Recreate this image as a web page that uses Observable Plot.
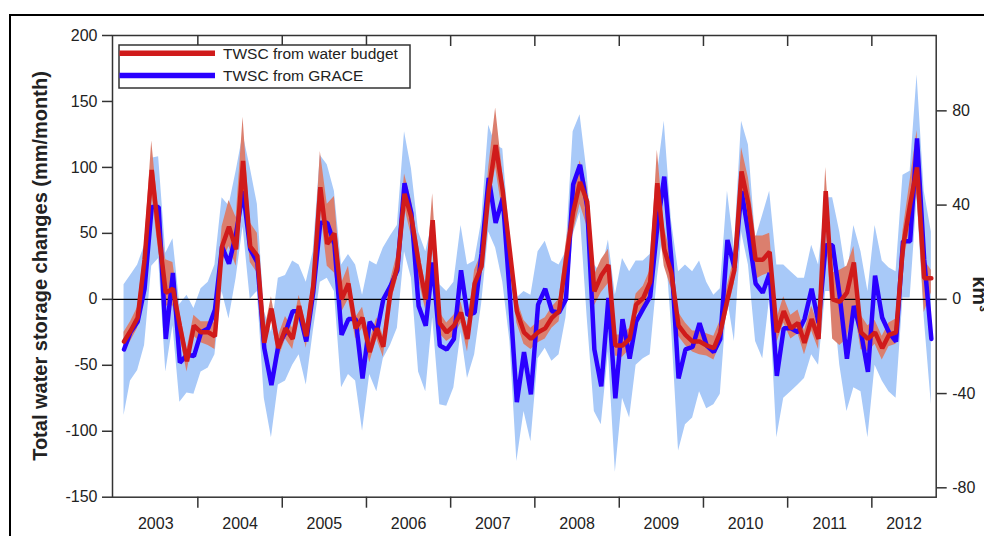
<!DOCTYPE html>
<html><head><meta charset="utf-8">
<script src="https://cdn.jsdelivr.net/npm/d3@7"></script>
<script src="https://cdn.jsdelivr.net/npm/@observablehq/plot@0.6"></script>
<style>
html,body{margin:0;padding:0;background:#fff;}
#wrap{position:relative;width:984px;height:536px;overflow:hidden;background:#fff;}
#frame{position:absolute;left:9px;top:14px;width:1100px;height:700px;border-top:2px solid #000;border-left:2px solid #000;}
#chart{position:absolute;left:0;top:0;}
</style></head><body>
<div id="wrap"><div id="frame"></div><div id="chart"></div></div>
<script>
// Monthly series, Feb 2003 .. Sep 2012 (mm/month)
const firstYear = 2003, firstMonth = 2;
const budget = [-32,-24,-14,30,98,50,5,8,-20,-47, -20,-25,-25,-28,40,55,38,105,40,33, -33,-7,-37,-22,-30,-5,-28,10,85,42,
  50,0,12,-22,-14,-40,-22,-36,5,25, 80,62,28,0,60,-18,-25,-20,-10,-30, 12,25,82,117,82,36,-9,-25,-30,-25,
  -22,-14,-9,30,66,89,74,6,18,26, -35,-35,-30,-4,1,13,88,38,20,-20, -27,-32,-32,-35,-37,-25,0,22,97,72,
  30,30,36,-25,-9,-22,-18,-33,-15,-30, 82,0,-2,5,28,-25,-30,-25,-37,-27, -25,40,72,100,16,16];
const budgetHigh = [-25,-17,-6,40,120,66,30,28,-10,-38, -12,-17,-17,-18,55,75,62,138,58,50, -25,2,-28,-13,-22,3,-20,18,112,72,
  78,12,25,-14,-6,-32,-14,-28,14,35, 95,75,40,10,80,-10,-18,-12,-2,-22, 22,35,100,145,95,50,0,-16,-22,-17,
  -14,-6,0,42,78,105,85,18,30,38, -27,-27,-22,4,10,22,113,55,32,-10, -18,-24,-24,-26,-28,-16,10,32,115,92,
  48,48,50,-15,2,-12,-8,-24,-5,-20, 100,20,22,25,40,-12,-20,-16,-28,-18, -15,52,90,128,30,22];
const budgetLow = [-40,-32,-22,20,80,36,-5,-5,-28,-55, -28,-33,-35,-38,28,40,25,85,28,20, -41,-15,-45,-30,-38,-13,-37,2,70,25,
  20,-10,0,-30,-22,-48,-30,-44,-3,15, 70,48,15,-8,40,-26,-32,-28,-18,-40, 2,15,70,100,65,25,-18,-34,-38,-33,
  -30,-22,-17,18,50,72,55,-5,5,12, -43,-44,-38,-12,-7,5,68,25,8,-28, -35,-40,-42,-43,-46,-34,-10,12,82,55,
  15,18,20,-33,-18,-30,-26,-42,-24,-38, 62,-30,-35,-30,-5,-38,-40,-34,-46,-36, -34,25,55,80,-10,5];
const grace = [-38,-25,-17,8,70,70,-30,20,-48,-42, -43,-25,-22,-8,40,27,50,82,38,28, -37,-65,-35,-25,-9,-9,-32,5,58,58,
  42,-27,-15,-15,-60,-17,-25,0,10,22, 88,65,-5,-20,28,-35,-38,-30,22,-12, -10,35,92,58,77,2,-78,-40,-72,-4,
  8,-9,-10,0,87,102,70,-38,-66,1, -75,-15,-45,-17,-7,2,55,93,30,-60, -38,-36,-18,-35,-40,-30,45,24,82,50,
  12,5,20,-58,-22,-22,-25,-15,8,-18, 41,41,2,-45,-5,-25,-55,18,-14,-25, -32,44,44,122,30,-30];
const graceHigh = [11,18,26,41,107,108,35,46,-4,3, -7,8,13,26,77,71,97,125,100,72, -9,-25,16,18,29,26,13,36,109,102,
  82,26,34,26,3,29,26,39,48,56, 127,99,51,36,59,11,6,13,56,26, 29,59,132,117,114,46,1,6,3,36,
  44,29,26,36,127,140,95,26,20,45, 3,31,21,29,29,34,94,135,60,21, 26,21,29,13,3,8,82,39,135,117,
  46,64,82,26,26,21,16,16,41,26, 77,77,51,16,56,36,6,56,29,24, 21,94,97,170,82,51];
const graceLow = [-88,-62,-54,-35,25,31,-55,-20,-78,-71, -72,-55,-52,-42,6,-15,16,55,0,6, -75,-105,-65,-62,-50,-42,-65,-25,13,16,
  6,-67,-57,-62,-100,-57,-70,-45,-35,-22, 36,16,-55,-70,-14,-80,-81,-67,-25,-60, -42,-4,51,39,13,-32,-123,-85,-108,-45,
  -37,-47,-42,-14,49,66,-14,-85,-95,-40, -131,-75,-90,-50,-45,-42,16,56,-20,-115, -95,-90,-70,-83,-80,-72,1,-32,51,26,
  -32,-45,1,-105,-75,-70,-65,-60,-42,-50, 6,6,-50,-85,-67,-70,-105,-50,-62,-70, -75,1,1,77,-14,-80];
const yTicks = [-150,-100,-50,0,50,100,150,200];
const kmTicks = [-80,-40,0,40,80];
const yearLabels = [2003,2004,2005,2006,2007,2008,2009,2010,2011,2012];
const seriesNames = ["TWSC from water budget", "TWSC from GRACE"];
const mmPerKm3 = 1.786;

const rows = budget.map((r, i) => ({
  date: new Date(Date.UTC(firstYear, firstMonth - 1 + i, 15)),
  r, rl: budgetLow[i], rh: budgetHigh[i],
  b: grace[i], bl: graceLow[i], bh: graceHigh[i]
}));

const x0 = new Date(Date.UTC(2002, 11, 27)), x1 = new Date(Date.UTC(2012, 9, 6));
const yearTicks = yearLabels.slice(1).map(y => new Date(Date.UTC(y, 0, 1)));
const labelDates = yearLabels.map(y => {
  const a = Math.max(+x0, Date.UTC(y, 0, 1)), b = Math.min(+x1, Date.UTC(y + 1, 0, 1));
  return new Date((a + b) / 2);
});

const W = 984, H = 536, mT = 35, mB = 39.3, mL = 112, mR = 48.3;
const RED = "#d01b1b", BLUE = "#2a00ff", RBAND = "#db7f6e", BBAND = "#a8c9f8", INK = "#222";

const plot = Plot.plot({
  width: W, height: H,
  marginTop: mT, marginBottom: mB, marginLeft: mL, marginRight: mR,
  style: {fontFamily: "'Liberation Sans', Arial, sans-serif", fontSize: "16px", color: INK, background: "transparent", overflow: "visible"},
  x: {type: "utc", domain: [x0, x1]},
  y: {domain: [-150, 200]},
  marks: [
    Plot.areaY(rows, {x: "date", y1: "bl", y2: "bh", fill: BBAND}),
    Plot.areaY(rows, {x: "date", y1: "rl", y2: "rh", fill: RBAND}),
    Plot.ruleY([0], {stroke: "#000", strokeWidth: 1.2}),
    Plot.lineY(rows, {x: "date", y: "b", stroke: BLUE, strokeWidth: 4.5, strokeLinejoin: "miter"}),
    Plot.lineY(rows, {x: "date", y: "r", stroke: RED, strokeWidth: 4.5, strokeLinejoin: "miter"}),
    Plot.frame({stroke: "#333", strokeWidth: 1.5}),
    Plot.ruleX(yearTicks, {stroke: "#333", strokeWidth: 1.5, insetBottom: H - mT - mB - 11}),
    Plot.axisX({ticks: yearTicks, anchor: "bottom", tickSize: 11, tickFormat: () => "", label: null, stroke: "#333", strokeWidth: 1.5}),
    Plot.axisX({ticks: labelDates, anchor: "bottom", tickSize: 0, tickPadding: 20, fontSize: 16, tickFormat: d => String(d.getUTCFullYear()), label: null}),
    Plot.axisY({ticks: yTicks, anchor: "left", tickSize: 10, tickPadding: 5, fontSize: 16, tickFormat: d => String(d), label: null, stroke: "#333", strokeWidth: 1.5}),
    Plot.axisY({ticks: kmTicks.map(k => k * mmPerKm3), anchor: "right", tickSize: 10, tickPadding: 6, fontSize: 16, tickFormat: d => String(Math.round(d / mmPerKm3)), label: null, stroke: "#333", strokeWidth: 1.5})
  ]
});
document.getElementById("chart").appendChild(plot);

const svg = d3.select(plot);
const font = "'Liberation Sans', Arial, sans-serif";
// y-axis titles
svg.append("text").attr("transform", "translate(47,266) rotate(-90)")
  .attr("text-anchor", "middle").attr("font-family", font).attr("font-weight", "bold")
  .attr("font-size", 20).attr("fill", INK).text("Total water storage changes (mm/month)");
svg.append("text").attr("transform", "translate(973,294) rotate(90)")
  .attr("text-anchor", "middle").attr("font-family", font).attr("font-weight", "bold")
  .attr("font-size", 20).attr("fill", INK).text("km³");
// legend
const lg = svg.append("g");
lg.append("rect").attr("x", 119).attr("y", 45).attr("width", 291).attr("height", 43)
  .attr("fill", "#fff").attr("stroke", "#333").attr("stroke-width", 1.5);
[[RED, 53.3], [BLUE, 75.5]].forEach(([c, y], k) => {
  lg.append("line").attr("x1", 119.5).attr("x2", 215).attr("y1", y).attr("y2", y)
    .attr("stroke", c).attr("stroke-width", 5.5);
  lg.append("text").attr("x", 223).attr("y", y).attr("dy", "0.35em").attr("text-anchor", "start")
    .attr("font-family", font).attr("font-size", 15.5).attr("fill", INK).text(seriesNames[k]);
});
</script>
</body></html>
